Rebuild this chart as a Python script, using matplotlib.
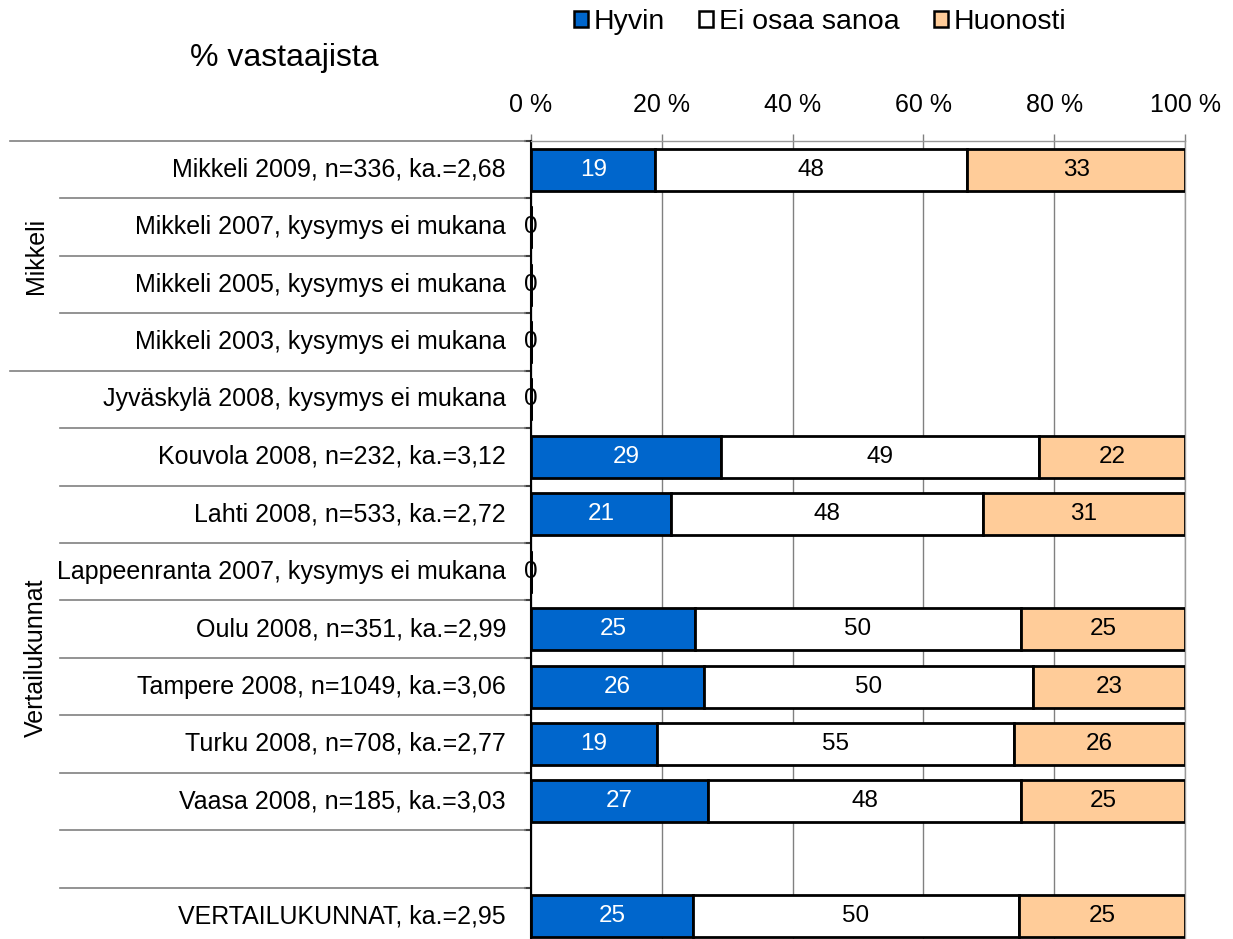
import numpy as np
import matplotlib
matplotlib.use('Agg')
import matplotlib.pyplot as plt
from matplotlib.transforms import blended_transform_factory
from matplotlib.patches import Patch

plt.rcParams['font.family'] = ['Liberation Sans', 'DejaVu Sans']

# data
labels = [
    'Mikkeli 2009, n=336, ka.=2,68',
    'Mikkeli 2007, kysymys ei mukana',
    'Mikkeli 2005, kysymys ei mukana',
    'Mikkeli 2003, kysymys ei mukana',
    'Jyväskylä 2008, kysymys ei mukana',
    'Kouvola 2008, n=232, ka.=3,12',
    'Lahti 2008, n=533, ka.=2,72',
    'Lappeenranta 2007, kysymys ei mukana',
    'Oulu 2008, n=351, ka.=2,99',
    'Tampere 2008, n=1049, ka.=3,06',
    'Turku 2008, n=708, ka.=2,77',
    'Vaasa 2008, n=185, ka.=3,03',
    '',
    'VERTAILUKUNNAT, ka.=2,95',
]
hyvin = [19.0, 0, 0, 0, 0, 29.1, 21.4, 0, 25.1, 26.4, 19.3, 27.1, np.nan, 24.8]
ei_osaa = [47.7, 0, 0, 0, 0, 48.6, 47.7, 0, 49.8, 50.4, 54.6, 47.8, np.nan, 49.8]
huonosti = [33.3, 0, 0, 0, 0, 22.3, 30.9, 0, 25.1, 23.2, 26.1, 25.1, np.nan, 25.4]
series_names = ['Hyvin', 'Ei osaa sanoa', 'Huonosti']
colors = ['#0066CC', '#FFFFFF', '#FFCC99']
text_colors = ['white', 'black', 'black']
group_names = ['Mikkeli', 'Vertailukunnat']
group_rows = [(0, 3), (4, 13)]
xticks = [0, 20, 40, 60, 80, 100]

W, H = 1233, 939
fig = plt.figure(figsize=(W / 100, H / 100), dpi=100)
ax = fig.add_axes([531 / W, -6 / H, 654 / W, 804 / H])

y = np.arange(len(labels))
left = np.zeros(len(labels))
for vals, col, tcol in zip([hyvin, ei_osaa, huonosti], colors, text_colors):
    vals = np.array(vals, dtype=float)
    ax.barh(y, vals, left=left, height=0.73, color=col, edgecolor='black',
            linewidth=2, zorder=3)
    for yi, v, l in zip(y, vals, left):
        if np.isfinite(v) and v > 0:
            ax.text(l + v / 2, yi, f'{v:.0f}', ha='center', va='center',
                    color=tcol, fontsize=17.5, zorder=4)
    left = left + np.nan_to_num(vals)

# "0" labels for rows without data
for yi, h in zip(y, hyvin):
    if np.isfinite(h) and h == 0:
        ax.text(0, yi, '0', ha='center', va='center', fontsize=17.5, zorder=5)

ax.set_xlim(0, 100)
ax.set_ylim(len(labels) - 0.5, -0.5)
ax.xaxis.tick_top()
ax.set_xticks(xticks)
ax.set_xticklabels([f'{t} %' for t in xticks], fontsize=18)
ax.tick_params(axis='x', length=5, width=1, color='#808080', pad=12)
ax.grid(axis='x', color='#808080', linewidth=1, zorder=0)
ax.set_yticks([])
ax.set_yticks(np.arange(-0.5, len(labels)), minor=True)
ax.tick_params(axis='y', which='minor', length=5, width=1.5, color='#404040')
for s in ['top', 'right', 'bottom']:
    ax.spines[s].set_color('#999999')
    ax.spines[s].set_linewidth(1)
ax.spines['left'].set_color('black')
ax.spines['left'].set_linewidth(1.5)

# category labels and separators
tr = blended_transform_factory(fig.transFigure, ax.transData)
for yi, lab in zip(y, labels):
    fig.text(506 / W, yi, lab, transform=tr, ha='right', va='center',
             fontsize=18)
group_starts = [g[0] for g in group_rows]
for b in range(len(labels)):
    x0 = 10 if b in group_starts else 60
    fig.add_artist(plt.Line2D([x0 / W, 525 / W], [b - 0.5, b - 0.5],
                              transform=tr, color='#808080', linewidth=1.2))

for name, (a, b) in zip(group_names, group_rows):
    fig.text(36 / W, (a + b) / 2, name, transform=tr, rotation=90,
             ha='center', va='center', fontsize=18)

fig.text(190 / W, 1 - 58 / H, '% vastaajista', fontsize=23, va='center')

handles = [Patch(facecolor=c, edgecolor='black', linewidth=1.8) for c in colors]
fig.legend(handles, series_names, loc='center', bbox_to_anchor=(820 / W, 1 - 22 / H),
           ncol=3, frameon=False, fontsize=20.5, handlelength=0.5, handleheight=0.5,
           handletextpad=0.2, columnspacing=1.2, borderpad=0)

fig.savefig('out.png', dpi=100)
